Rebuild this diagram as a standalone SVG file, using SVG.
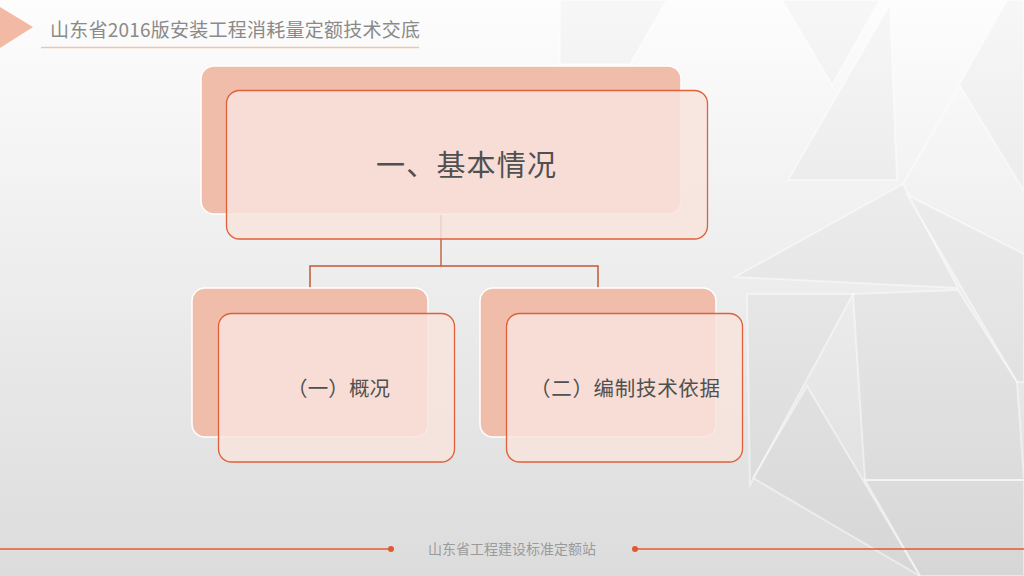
<svg xmlns="http://www.w3.org/2000/svg" width="1024" height="576" viewBox="0 0 1024 576">
<defs>
<linearGradient id="bg" x1="0" y1="0" x2="0" y2="1">
<stop offset="0" stop-color="#fdfdfd"/>
<stop offset="0.45" stop-color="#eeeeee"/>
<stop offset="1" stop-color="#dcdcdc"/>
</linearGradient>
<style>
.tri{fill:#000;fill-opacity:0.022;stroke:#ffffff;stroke-opacity:0.45;stroke-width:2}
.back{fill:#f0bdab;stroke:#ffffff;stroke-width:1.5}
.front{fill:#f8e3dc;fill-opacity:0.85;stroke:#e0603a;stroke-width:1.3}
.lbl{font-family:"Noto Sans CJK SC","Noto Sans CJK JP",sans-serif;fill:#505050;text-anchor:middle}
.conn{fill:none;stroke:#c0583a;stroke-width:1.5}
</style>
</defs>
<rect width="1024" height="576" fill="url(#bg)"/>
<g id="background">
<polygon class="tri" points="560,0 667,0 630,64 560,64"/>
<polygon class="tri" points="782,0 880,0 832,85"/>
<polygon class="tri" points="890,4 788,180 897,180"/>
<polygon class="tri" points="903,184 1007,0 1024,0 1024,191 960,86"/>
<polygon class="tri" points="903,184 735,277 958,288"/>
<polygon class="tri" points="907,195 1024,254 1024,382 1017,382"/>
<polygon class="tri" points="747,294 853,294 750,485"/>
<polygon class="tri" points="807,386 753,478 920,576"/>
<polygon class="tri" points="865,480 1024,480 1024,576 920,576"/>
<polygon class="tri" points="853,294 958,290 1017,382 1024,480 865,480"/>
</g>
<g id="title">
<polygon points="0,7 33,27 0,48" fill="#f2b9a5"/>
<text x="50" y="37" font-family="Noto Sans CJK SC,sans-serif" font-size="19" fill="#8a8a8a" textLength="370" lengthAdjust="spacing">山东省2016版安装工程消耗量定额技术交底</text>
<line x1="41" y1="47.5" x2="419" y2="47.5" stroke="#f2c2b1" stroke-width="1.5"/>
</g>
<g id="connectors">
<line class="conn" x1="441" y1="215" x2="441" y2="266" stroke-opacity="0.9"/>
<polyline class="conn" points="310,288 310,266 598,266 598,288"/>
</g>
<g id="node-root">
<rect class="back" x="201" y="66" width="480" height="148" rx="13"/>
<rect class="front" x="226.5" y="90.5" width="481" height="148.5" rx="13"/>
<text class="lbl" x="466" y="176" font-size="29" textLength="180" lengthAdjust="spacing">一、基本情况</text>
</g>
<g id="node-1">
<rect class="back" x="192" y="288" width="236" height="149" rx="13"/>
<rect class="front" x="218.5" y="313.5" width="236" height="148.5" rx="13"/>
<text class="lbl" x="338.5" y="396" font-size="20.5" textLength="103" lengthAdjust="spacing">（一）概况</text>
</g>
<g id="node-2">
<rect class="back" x="480" y="288" width="236" height="149" rx="13"/>
<rect class="front" x="506.5" y="313.5" width="236" height="148.5" rx="13"/>
<text class="lbl" x="625" y="396" font-size="20.5" textLength="190" lengthAdjust="spacing">（二）编制技术依据</text>
</g>
<g id="footer">
<line x1="0" y1="549" x2="390" y2="549" stroke="#e05a30" stroke-width="1.5"/>
<circle cx="391" cy="549" r="3" fill="#e05a30"/>
<line x1="635" y1="549" x2="1024" y2="549" stroke="#e05a30" stroke-width="1.5"/>
<circle cx="635" cy="549" r="3" fill="#e05a30"/>
<text x="512" y="554" font-family="Noto Sans CJK SC,sans-serif" font-size="14" fill="#9a9a9a" text-anchor="middle">山东省工程建设标准定额站</text>
</g>
</svg>
